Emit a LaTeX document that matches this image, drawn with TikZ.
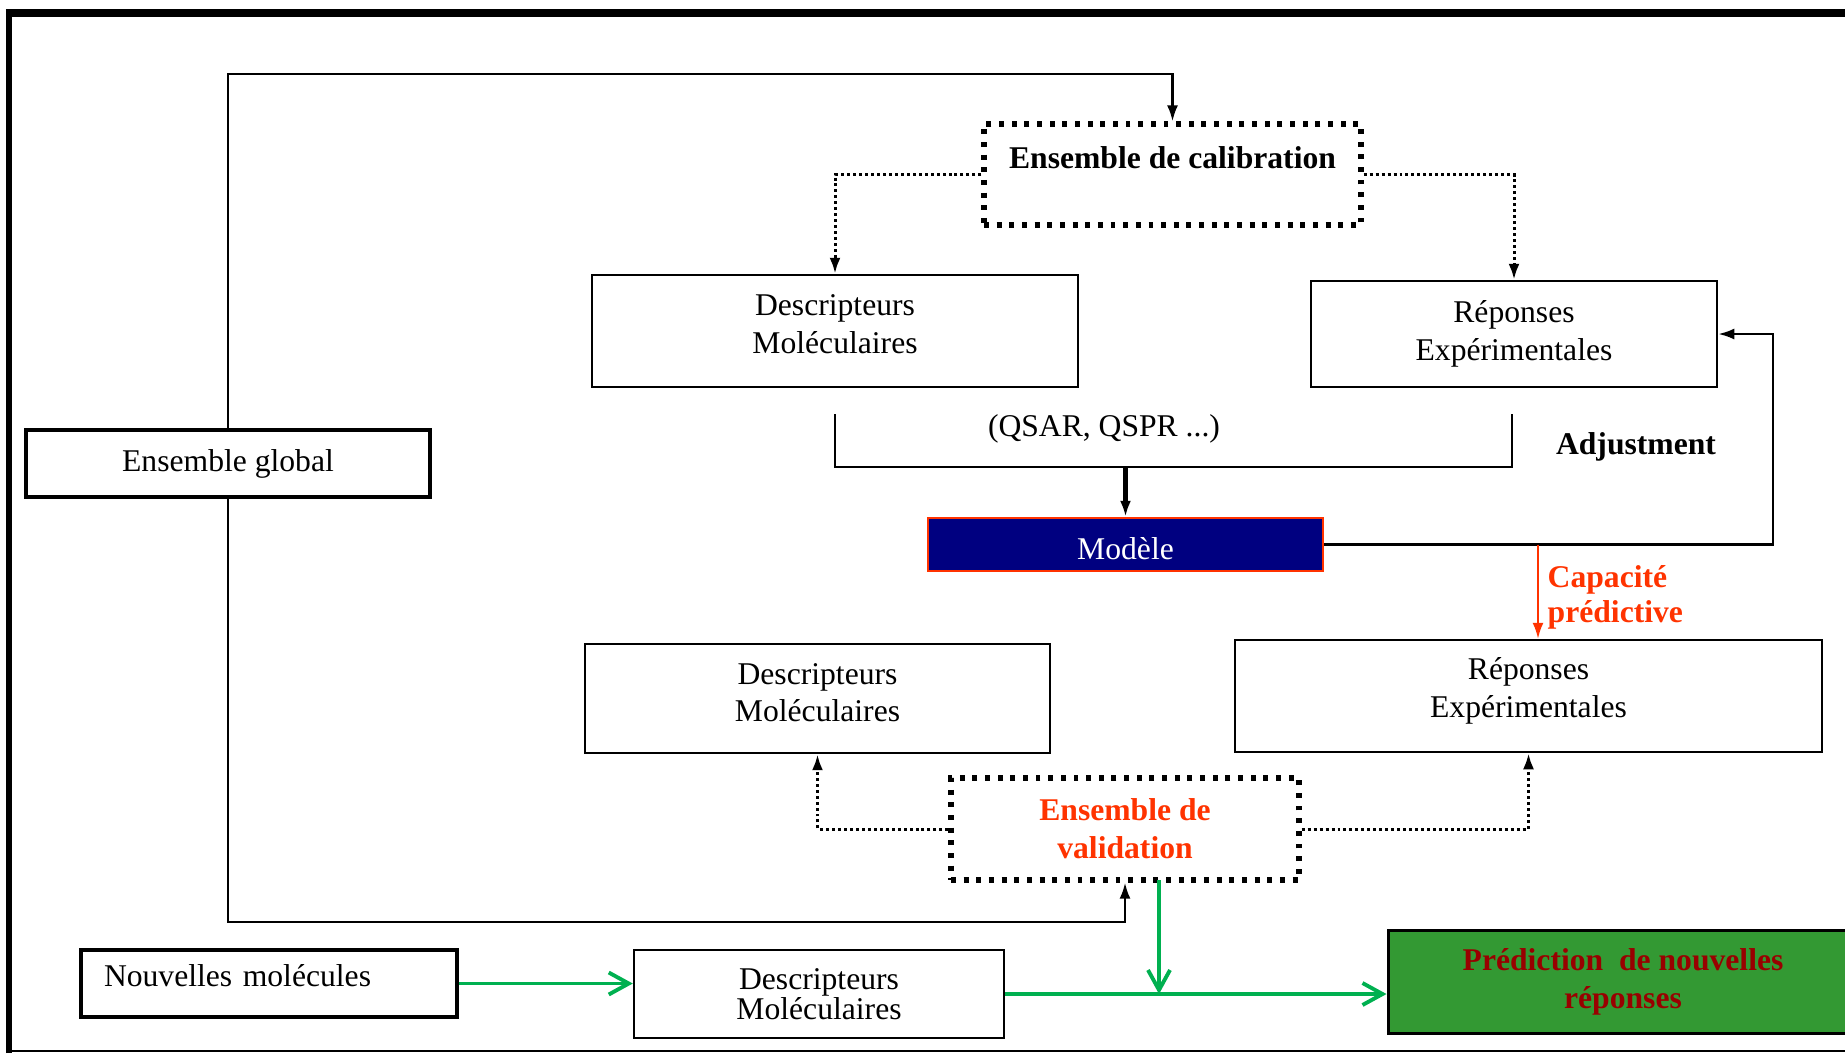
\documentclass[tikz,border=0pt]{standalone}
\usepackage{fontspec}
\setmainfont{Liberation Serif}
\usetikzlibrary{calc,arrows.meta}
\definecolor{calred}{RGB}{255,51,0}
\definecolor{navymod}{RGB}{0,0,128}
\definecolor{predgreen}{RGB}{51,153,51}
\definecolor{preddark}{RGB}{153,0,0}
\definecolor{linkgreen}{RGB}{0,176,80}

\begin{document}
\begin{tikzpicture}[
  font=\fontsize{9}{10.8}\selectfont,
  >={Latex[length=1.6mm, width=1.1mm]},
  box/.style={draw, line width=0.7pt, align=center, inner sep=0pt},
  dotbox/.style={draw, line width=1.5pt, dash pattern=on 1.4pt off 2.2pt, align=center, inner sep=0pt},
  link/.style={line width=0.7pt},
  dotlink/.style={line width=0.85pt, dash pattern=on 0.85pt off 0.85pt},
  greenlink/.style={line width=1.1pt, color=linkgreen, -{Straight Barb[length=2mm, width=2.2mm, line width=1.1pt]}}
]
\useasboundingbox (0, 0) rectangle (18.45, -10.53);
\draw [line width=1.7pt] (0.09, -10.53) -- (0.09, -0.13);
\draw [line width=2.3pt] (0.06, -0.13) -- (18.45, -0.13);
\draw [line width=0.45pt] (0.09, -10.51) -- (18.45, -10.51);

\node [box, line width=1.1pt, minimum width=4.04cm, minimum height=0.67cm] (global) at (2.28, -4.635) {Ensemble global};
\node [dotbox, font=\fontsize{9}{10.8}\selectfont\bfseries, minimum width=3.77cm, minimum height=1.01cm, text depth=0.33cm] (calib) at (11.725, -1.745) {Ensemble de calibration};
\node [box, minimum width=4.86cm, minimum height=1.12cm, text depth=4pt] (desc1) at (8.35, -3.31) {Descripteurs\\Moléculaires};
\node [box, minimum width=4.06cm, minimum height=1.06cm] (rep1) at (15.14, -3.34) {Réponses\\Expérimentales};
\node [box, fill=navymod, draw=calred, text=white, minimum width=3.95cm, minimum height=0.53cm, text height=8.6pt, text depth=0pt] (modele) at (11.255, -5.445) {Modèle};
\node [box, minimum width=4.65cm, minimum height=1.09cm, text depth=3.4pt] (desc2) at (8.175, -6.985) {Descripteurs\\Moléculaires};
\node [box, minimum width=5.87cm, minimum height=1.12cm, text depth=4.8pt] (rep2) at (15.285, -6.96) {Réponses\\Expérimentales};
\node [dotbox, font=\fontsize{9}{10.8}\selectfont\bfseries, text=calred, minimum width=3.48cm, minimum height=1.02cm] (valid) at (11.25, -8.29) {Ensemble de\\validation};
\node [box, line width=1.1pt, align=left, text width=3.30cm, inner xsep=0.23cm, minimum height=0.67cm, text depth=0.17cm] (nouv) at (2.69, -9.835) {Nouvelles molécules};
\node [box, font=\fontsize{9}{8.6}\selectfont, minimum width=3.70cm, minimum height=0.88cm] (desc3) at (8.19, -9.94) {Descripteurs\\Moléculaires};
\node [box, line width=0.85pt, fill=predgreen, text=preddark, font=\fontsize{9}{10.8}\selectfont\bfseries, minimum width=4.70cm, minimum height=1.03cm] (pred) at (16.23, -9.815) {Prédiction~ de nouvelles\\réponses};

\node (qsar) at (11.04, -4.285) {(QSAR, QSPR ...)};
\node [font=\fontsize{9}{10.8}\selectfont\bfseries] (adjust) at (16.36, -4.47) {Adjustment};
\node [anchor=north west, align=left, inner sep=0pt, text=calred, font=\fontsize{9}{10}\selectfont\bfseries] (capa) at (15.47, -5.65) {Capacité\\prédictive};

\coordinate (toploop) at (11.725, -0.74);
\coordinate (botloop) at (11.25, -9.22);
\coordinate (brL) at (8.35, -4.14);
\coordinate (brR) at (15.12, -4.14);
\coordinate (brbase) at (8.35, -4.67);
\coordinate (adjc) at (17.73, -5.445);
\coordinate (capc) at (15.38, -5.445);
\coordinate (vgreen) at (11.59, -8.80);

\draw [link, ->] (global.north) |- (toploop) -- (calib.north);
\draw [dotlink, ->] (calib.west) -| (desc1.north);
\draw [dotlink, ->] (calib.east) -| (rep1.north);
\draw [link] (brL) -- (brbase) -| (brR);
\draw [->, line width=1.4pt] (brbase -| modele.north) -- (modele.north);
\draw [link, ->] (modele.east) -- (adjc) |- (rep1.east);
\draw [->, calred, line width=0.6pt] (capc) -- (capc |- rep2.north);
\draw [dotlink, ->] (valid.west) -| (desc2.south);
\draw [dotlink, ->] (valid.east) -| (rep2.south);
\draw [link, ->] (global.south) |- (botloop) -- (valid.south);
\draw [greenlink] (nouv.east) -- (nouv.east -| desc3.west);
\draw [greenlink] (desc3.east) -- (desc3.east -| pred.west);
\draw [greenlink] (vgreen) -- (vgreen |- desc3.east);
\end{tikzpicture}
\end{document}
